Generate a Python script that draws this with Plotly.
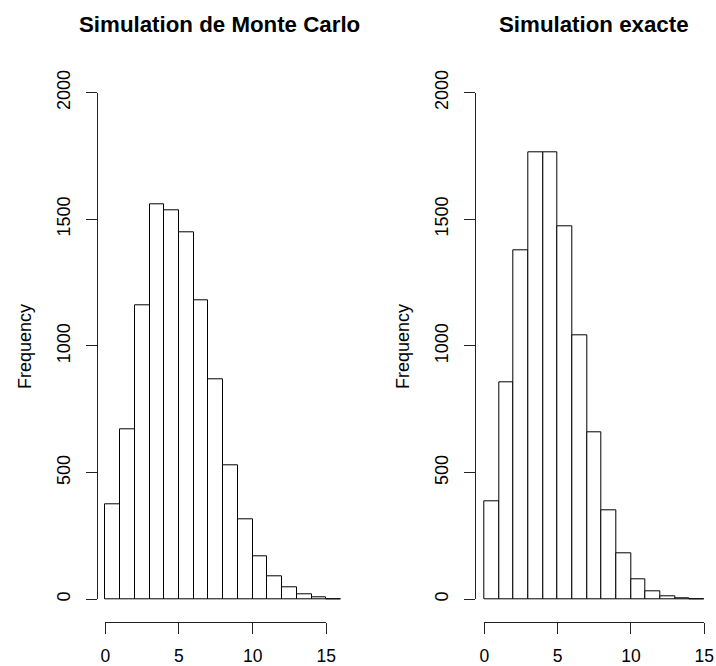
import plotly.graph_objects as go

# ---- data ----
breaks_mc = list(range(0, 17))          # Monte Carlo histogram breaks
counts_mc = [375, 671, 1160, 1561, 1535, 1447, 1180, 870, 527, 316, 171, 91, 49, 21, 7, 2]

breaks_ex = list(range(0, 16))          # exact simulation histogram breaks
counts_ex = [388, 855, 1379, 1763, 1763, 1472, 1043, 660, 352, 181, 79, 32, 11, 4, 1]

x_ticks = [0, 5, 10, 15]
y_ticks = [0, 500, 1000, 1500, 2000]

title_mc = "Simulation de Monte Carlo"
title_ex = "Simulation exacte"
y_label = "Frequency"

# ---- layout helpers (pixel -> paper) ----
W, H = 716, 666
def fx(px):
    return px / W
def fy(py):
    return 1 - py / H

FONT = "Liberation Sans, Arial, Helvetica, sans-serif"
TICK_SIZE = 18
XTICK_SIZE = 17.5
TITLE_SIZE = 22.3


def centers(br):
    return [(a + b) / 2 for a, b in zip(br[:-1], br[1:])]


def widths(br):
    return [b - a for a, b in zip(br[:-1], br[1:])]


fig = go.Figure()

fig.add_trace(go.Bar(
    x=centers(breaks_mc), y=counts_mc, width=widths(breaks_mc),
    marker=dict(color="white", line=dict(color="black", width=1)),
    xaxis="x", yaxis="y", showlegend=False, hoverinfo="skip"))
fig.add_trace(go.Bar(
    x=centers(breaks_ex), y=counts_ex, width=widths(breaks_ex),
    marker=dict(color="white", line=dict(color="black", width=1)),
    xaxis="x2", yaxis="y2", showlegend=False, hoverinfo="skip"))

# placeholder traces so the R-style detached axes are drawn
for xa, ya in (("x3", "y3"), ("x4", "y4")):
    fig.add_trace(go.Scatter(x=[None], y=[None], xaxis=xa, yaxis=ya,
                             showlegend=False, hoverinfo="skip"))

hidden = dict(visible=False, showgrid=False, zeroline=False, fixedrange=True)

deco_common = dict(showline=True, linecolor="#222", linewidth=1,
                   ticks="outside", ticklen=11, tickcolor="#222", tickwidth=1,
                   showgrid=False, zeroline=False, fixedrange=True,
                   anchor="free")
yfont = dict(family=FONT, size=TICK_SIZE, color="black")
xfont = dict(family=FONT, size=XTICK_SIZE, color="black")

fig.update_layout(
    width=W, height=H,
    margin=dict(l=0, r=0, t=0, b=0),
    paper_bgcolor="white", plot_bgcolor="rgba(0,0,0,0)",
    template="none",
    bargap=0,
    # bar panels
    xaxis=dict(domain=[fx(97), fx(350.4)], range=[-0.563, 16.636], anchor="y", **hidden),
    yaxis=dict(domain=[fy(621.7), fy(72.3)], range=[-88.4, 2080.1], anchor="x", **hidden),
    xaxis2=dict(domain=[fx(475.3), fx(713.1)], range=[-0.614, 15.6], anchor="y2", **hidden),
    yaxis2=dict(domain=[fy(621.7), fy(72.3)], range=[-88.4, 2080.1], anchor="x2", **hidden),
    # detached axes (left panel)
    xaxis3=dict(domain=[fx(105.3), fx(326.3)], range=[0, 15], position=fy(621.7),
                tickvals=x_ticks, ticklabelstandoff=7, tickfont=xfont, **deco_common),
    yaxis3=dict(domain=[fy(599.3), fy(92.6)], range=[0, 2000], position=fx(97),
                tickvals=y_ticks, tickangle=-90, ticklabelstandoff=9, tickfont=yfont,
                **deco_common),
    # detached axes (right panel)
    xaxis4=dict(domain=[fx(484.3), fx(704.3)], range=[0, 15], position=fy(621.7),
                tickvals=x_ticks, ticklabelstandoff=7, tickfont=xfont, **deco_common),
    yaxis4=dict(domain=[fy(599.3), fy(92.6)], range=[0, 2000], position=fx(475),
                tickvals=y_ticks, tickangle=-90, ticklabelstandoff=9, tickfont=yfont,
                **deco_common),
)

ann = []
ann.append(dict(text=f"<b>{title_mc}</b>", x=fx(219), y=fy(25), xref="paper", yref="paper",
                xanchor="center", yanchor="middle", showarrow=False,
                font=dict(family=FONT, size=TITLE_SIZE, color="black")))
ann.append(dict(text=f"<b>{title_ex}</b>", x=fx(594), y=fy(25), xref="paper", yref="paper",
                xanchor="center", yanchor="middle", showarrow=False,
                font=dict(family=FONT, size=TITLE_SIZE, color="black")))
for xc in (25, 403):
    ann.append(dict(text=y_label, x=fx(xc), y=fy(347), xref="paper", yref="paper",
                    xanchor="center", yanchor="middle", showarrow=False, textangle=-90,
                    font=dict(family=FONT, size=TICK_SIZE, color="black")))
fig.update_layout(annotations=ann)

fig.write_html(
    "out.html",
    config={"displayModeBar": False},
    post_script="document.body.style.margin='0px';document.body.style.overflow='hidden';",
)
